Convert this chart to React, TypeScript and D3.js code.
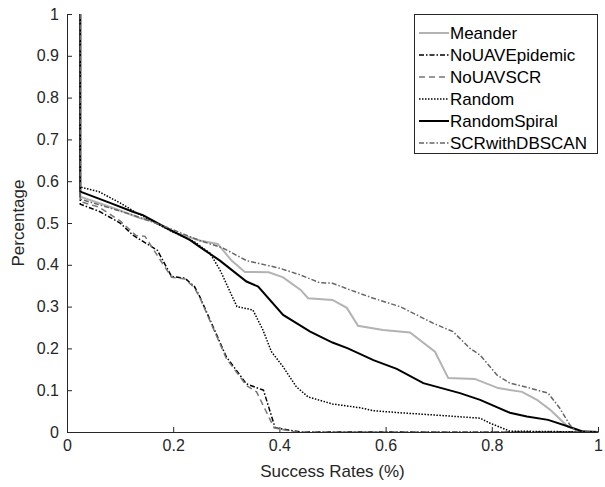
import React, { useEffect, useRef } from 'react'
import * as d3 from 'd3'

// series names, in legend order
const seriesNames = ['Meander', 'NoUAVEpidemic', 'NoUAVSCR', 'Random', 'RandomSpiral', 'SCRwithDBSCAN']

// [success rate, percentage] pairs
const meander = [
  [0.025, 1], [0.025, 0.563], [0.06, 0.548], [0.1, 0.53], [0.137, 0.512], [0.16, 0.505], [0.2, 0.478],
  [0.25, 0.458], [0.284, 0.45], [0.31, 0.41], [0.335, 0.383], [0.38, 0.382], [0.407, 0.37], [0.44, 0.34],
  [0.454, 0.32], [0.5, 0.316], [0.527, 0.297], [0.548, 0.254], [0.595, 0.244], [0.646, 0.238],
  [0.693, 0.192], [0.718, 0.129], [0.768, 0.127], [0.812, 0.105], [0.857, 0.096], [0.885, 0.077],
  [0.91, 0.053], [0.943, 0.013], [0.966, 0.002], [1, 0],
]
const noUavEpidemic = [
  [0.025, 1], [0.025, 0.545], [0.062, 0.527], [0.1, 0.5], [0.124, 0.471], [0.17, 0.435], [0.197, 0.372],
  [0.222, 0.368], [0.24, 0.348], [0.25, 0.324], [0.3, 0.18], [0.338, 0.115], [0.37, 0.1], [0.392, 0.01],
  [0.44, 0], [1, 0],
]
const noUavScr = [
  [0.025, 1], [0.025, 0.551], [0.06, 0.538], [0.1, 0.505], [0.13, 0.47], [0.147, 0.468], [0.16, 0.442],
  [0.197, 0.37], [0.222, 0.366], [0.24, 0.345], [0.25, 0.322], [0.3, 0.176], [0.338, 0.111], [0.357, 0.096],
  [0.39, 0.01], [0.43, 0], [1, 0],
]
const random = [
  [0.025, 1], [0.025, 0.586], [0.06, 0.575], [0.1, 0.548], [0.13, 0.525], [0.16, 0.505], [0.2, 0.478],
  [0.24, 0.455], [0.269, 0.428], [0.288, 0.388], [0.32, 0.3], [0.35, 0.292], [0.369, 0.244], [0.385, 0.192],
  [0.407, 0.156], [0.432, 0.108], [0.454, 0.084], [0.5, 0.067], [0.552, 0.058], [0.577, 0.051],
  [0.627, 0.046], [0.7, 0.04], [0.778, 0.033], [0.797, 0.021], [0.834, 0.002], [1, 0],
]
const randomSpiral = [
  [0.025, 1], [0.025, 0.575], [0.081, 0.548], [0.124, 0.527], [0.143, 0.519], [0.188, 0.488],
  [0.232, 0.459], [0.25, 0.443], [0.288, 0.41], [0.338, 0.36], [0.36, 0.348], [0.407, 0.28], [0.458, 0.24],
  [0.5, 0.214], [0.529, 0.2], [0.577, 0.172], [0.621, 0.151], [0.671, 0.117], [0.74, 0.093], [0.778, 0.077],
  [0.834, 0.046], [0.866, 0.037], [0.906, 0.029], [0.947, 0.012], [0.972, 0.001], [1, 0],
]
const scrWithDbscan = [
  [0.025, 1], [0.025, 0.557], [0.081, 0.536], [0.124, 0.519], [0.188, 0.49], [0.232, 0.467], [0.25, 0.458],
  [0.294, 0.44], [0.338, 0.41], [0.4, 0.392], [0.439, 0.376], [0.476, 0.357], [0.5, 0.356], [0.533, 0.34],
  [0.577, 0.32], [0.627, 0.3], [0.69, 0.26], [0.727, 0.24], [0.759, 0.2], [0.778, 0.184], [0.81, 0.136],
  [0.834, 0.117], [0.872, 0.105], [0.906, 0.093], [0.928, 0.057], [0.947, 0.017], [0.96, 0], [1, 0],
]

const xTicks = [0, 0.2, 0.4, 0.6, 0.8, 1]
const yTicks = [0, 0.1, 0.2, 0.3, 0.4, 0.5, 0.6, 0.7, 0.8, 0.9, 1]

const App = () => {
  const svgRef = useRef<SVGSVGElement>(null)

  useEffect(() => {
    const width = 605
    const height = 487
    const left = 67, right = 598, top = 14, bottom = 432
    const axisColor = '#262626'
    const font = 'Liberation Sans, Arial, Helvetica, sans-serif'

    const svg = d3.select(svgRef.current)
    svg.selectAll('*').remove()
    svg.attr('width', width).attr('height', height)
      .style('background', '#fff')

    const x = d3.scaleLinear().domain([0, 1]).range([left, right])
    const y = d3.scaleLinear().domain([0, 1]).range([bottom, top])

    // line styles per series
    const styles = [
      { data: meander, color: '#b3b3b3', w: 2, dash: null },
      { data: noUavEpidemic, color: '#000', w: 1.5, dash: '5,2,1.5,2' },
      { data: noUavScr, color: '#777', w: 1.5, dash: '6,4' },
      { data: random, color: '#000', w: 1.5, dash: '1.5,1.5' },
      { data: randomSpiral, color: '#000', w: 2, dash: null },
      { data: scrWithDbscan, color: '#666', w: 1.5, dash: '5,2,1.5,2' },
    ]

    const line = d3.line<number[]>().x(d => x(d[0])).y(d => y(d[1]))

    styles.forEach(s => {
      svg.append('path')
        .datum(s.data)
        .attr('d', line)
        .attr('fill', 'none')
        .attr('stroke', s.color)
        .attr('stroke-width', s.w)
        .attr('stroke-dasharray', s.dash)
    })

    // axes, ticks inward
    const xAxis = svg.append('g')
      .attr('transform', `translate(0,${bottom})`)
      .call(d3.axisBottom(x).tickValues(xTicks).tickSizeInner(-5).tickSizeOuter(0).tickPadding(8)
        .tickFormat(d => d3.format('~g')(d as number)))
    const yAxis = svg.append('g')
      .attr('transform', `translate(${left},0)`)
      .call(d3.axisLeft(y).tickValues(yTicks).tickSizeInner(-5).tickSizeOuter(0).tickPadding(8)
        .tickFormat(d => d3.format('~g')(d as number)))

    ;[xAxis, yAxis].forEach(g => {
      g.select('.domain').attr('stroke', axisColor).attr('stroke-width', 1)
      g.selectAll('.tick line').attr('stroke', axisColor)
      g.selectAll('.tick text').attr('fill', axisColor)
        .style('font-family', font).style('font-size', '16px')
    })

    svg.append('text')
      .attr('x', (left + right) / 2)
      .attr('y', 477)
      .attr('text-anchor', 'middle')
      .style('font-family', font).style('font-size', '17px')
      .attr('fill', axisColor)
      .text('Success Rates (%)')

    svg.append('text')
      .attr('transform', `translate(24,${(top + bottom) / 2}) rotate(-90)`)
      .attr('text-anchor', 'middle')
      .style('font-family', font).style('font-size', '17px')
      .attr('fill', axisColor)
      .text('Percentage')

    // legend
    const lg = svg.append('g')
    lg.append('rect')
      .attr('x', 414.5).attr('y', 14.5).attr('width', 183).attr('height', 139)
      .attr('fill', '#fff').attr('stroke', axisColor).attr('stroke-width', 1)
    styles.forEach((s, i) => {
      const yy = 33 + i * 22
      lg.append('line')
        .attr('x1', 419).attr('x2', 449).attr('y1', yy).attr('y2', yy)
        .attr('stroke', s.color).attr('stroke-width', s.w)
        .attr('stroke-dasharray', s.dash)
      lg.append('text')
        .attr('x', 450).attr('y', yy)
        .attr('dy', '0.35em')
        .style('font-family', font).style('font-size', '17px')
        .attr('fill', '#000')
        .text(seriesNames[i])
    })
  }, [])

  return (
    <svg ref={svgRef} style={{ position: 'absolute', left: 0, top: 0 }}></svg>
  )
}

export default App
